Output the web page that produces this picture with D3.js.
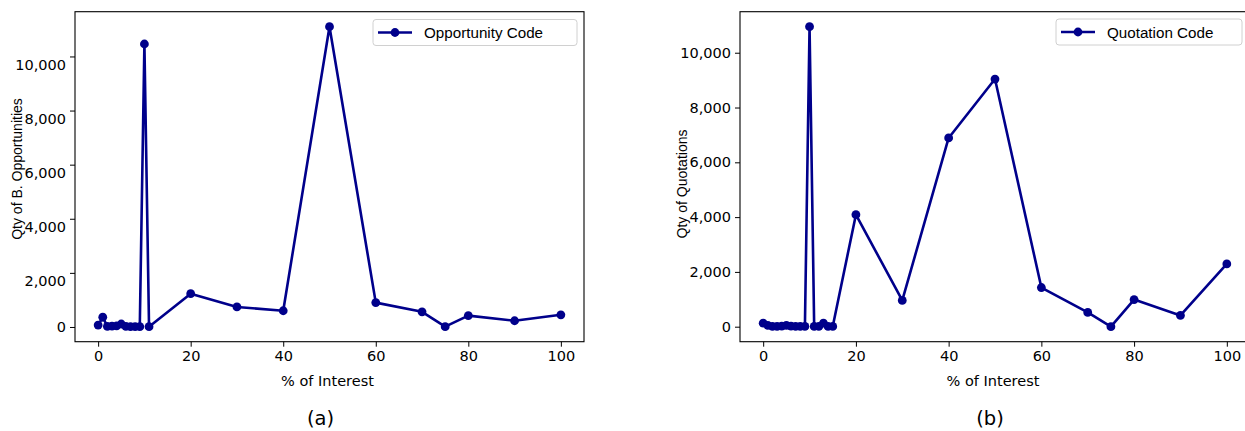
<!DOCTYPE html>
<html>
<head>
<meta charset="utf-8">
<script src="https://cdn.jsdelivr.net/npm/d3@7"></script>
<style>
  html, body { margin: 0; padding: 0; background: #fff; }
  svg { display: block; }
</style>
</head>
<body>
<svg id="fig" width="1245" height="431"></svg>
<script>
// % of interest levels (x) for each panel
const oppInterest = [0, 1, 2, 3, 4, 5, 6, 7, 8, 9, 10, 11, 20, 30, 40, 50, 60, 70, 75, 80, 90, 100];
const oppQty      = [70, 360, 20, 30, 40, 110, 20, 10, 10, 10, 10460, 10, 1230, 740, 600, 11100, 900, 560, 10, 420, 230, 450];

const quoInterest = [0, 1, 2, 3, 4, 5, 6, 7, 8, 9, 10, 11, 12, 13, 14, 15, 20, 30, 40, 50, 60, 70, 75, 80, 90, 100];
const quoQty      = [130, 50, 10, 10, 20, 50, 20, 10, 10, 10, 10950, 10, 10, 130, 10, 10, 4090, 960, 6890, 9040, 1430, 520, 0, 990, 410, 2290];

const xTicks = [0, 20, 40, 60, 80, 100];
const yTicks = [0, 2000, 4000, 6000, 8000, 10000];

const panels = [
  { xs: oppInterest, ys: oppQty, legend: "Opportunity Code", ylabel: "Qty of B. Opportunities",
    caption: "(a)", captionX: 320.5, left: 75, right: 584, ylabelX: 17, ylabelY: 169, labelShift: 8,
    legendBox: [373, 19.5, 204, 26] },
  { xs: quoInterest, ys: quoQty, legend: "Quotation Code", ylabel: "Qty of Quotations",
    caption: "(b)", captionX: 990, left: 740, right: 1250, ylabelX: 682, ylabelY: 184, labelShift: 0,
    legendBox: [1056, 19, 186, 26] }
];

const plotTop = 11.7, plotBottom = 341.7;
const navy = "#00008b";
const fmt = d3.format(",");
const svg = d3.select("#fig");

panels.forEach(p => {
  const x = d3.scaleLinear().domain([-5, 105]).range([p.left, p.right]);
  const [lo, hi] = d3.extent(p.ys);
  const pad = (hi - lo) * 0.05;
  const y = d3.scaleLinear().domain([lo - pad, hi + pad]).range([plotBottom, plotTop]);

  const g = svg.append("g");

  // frame
  g.append("rect")
    .attr("x", p.left).attr("y", plotTop)
    .attr("width", p.right - p.left).attr("height", plotBottom - plotTop)
    .attr("fill", "none").attr("stroke", "#000").attr("stroke-width", 1.1);

  // x axis
  const xAxis = d3.axisBottom(x).tickValues(xTicks).tickSize(5).tickPadding(4).tickFormat(d3.format("d"));
  const gx = g.append("g").attr("transform", `translate(0,${plotBottom})`).call(xAxis);
  gx.select(".domain").remove();
  gx.selectAll("text").attr("font-family", "DejaVu Sans").attr("font-size", 14.5).attr("fill", "#000");

  // y axis
  const yAxis = d3.axisLeft(y).tickValues(yTicks).tickSize(5).tickPadding(4).tickFormat(fmt);
  const gy = g.append("g").attr("transform", `translate(${p.left},0)`).call(yAxis);
  gy.select(".domain").remove();
  gy.selectAll("text")
    .attr("font-family", "DejaVu Sans").attr("font-size", 14.5).attr("fill", "#000")
    .attr("transform", d => d === 0 ? null : `translate(0,${p.labelShift})`);

  // axis titles
  g.append("text")
    .attr("x", (p.left + p.right) / 2 - 2).attr("y", 385.5)
    .attr("text-anchor", "middle")
    .attr("font-family", "DejaVu Sans").attr("font-size", 14.5)
    .text("% of Interest");

  g.append("text")
    .attr("transform", `translate(${p.ylabelX},${p.ylabelY}) rotate(-90)`)
    .attr("text-anchor", "middle").attr("dominant-baseline", "central")
    .attr("font-family", "Liberation Sans").attr("font-size", 14)
    .text(p.ylabel);

  // series line + markers
  const pts = p.xs.map((v, i) => [v, p.ys[i]]);
  g.append("path")
    .datum(pts)
    .attr("fill", "none").attr("stroke", navy).attr("stroke-width", 2.6)
    .attr("stroke-linejoin", "round")
    .attr("d", d3.line().x(d => x(d[0])).y(d => y(d[1])));
  g.selectAll("circle.pt").data(pts).join("circle")
    .attr("class", "pt")
    .attr("cx", d => x(d[0])).attr("cy", d => y(d[1])).attr("r", 4.4)
    .attr("fill", navy);

  // legend
  const [lx, ly, lw, lh] = p.legendBox;
  g.append("rect")
    .attr("x", lx).attr("y", ly).attr("width", lw).attr("height", lh)
    .attr("rx", 3).attr("fill", "#fff").attr("fill-opacity", 0.8)
    .attr("stroke", "#d0d0d0").attr("stroke-width", 1);
  const cy = ly + lh / 2;
  g.append("line")
    .attr("x1", lx + 5).attr("x2", lx + 39).attr("y1", cy).attr("y2", cy)
    .attr("stroke", navy).attr("stroke-width", 2.6);
  g.append("circle").attr("cx", lx + 22).attr("cy", cy).attr("r", 4.4).attr("fill", navy);
  g.append("text")
    .attr("x", lx + 51).attr("y", cy).attr("dominant-baseline", "central")
    .attr("font-family", "Liberation Sans").attr("font-size", 15.2)
    .text(p.legend);

  // caption
  g.append("text")
    .attr("x", p.captionX).attr("y", 425)
    .attr("text-anchor", "middle")
    .attr("font-family", "DejaVu Sans").attr("font-size", 19.5)
    .text(p.caption);
});
</script>
</body>
</html>
